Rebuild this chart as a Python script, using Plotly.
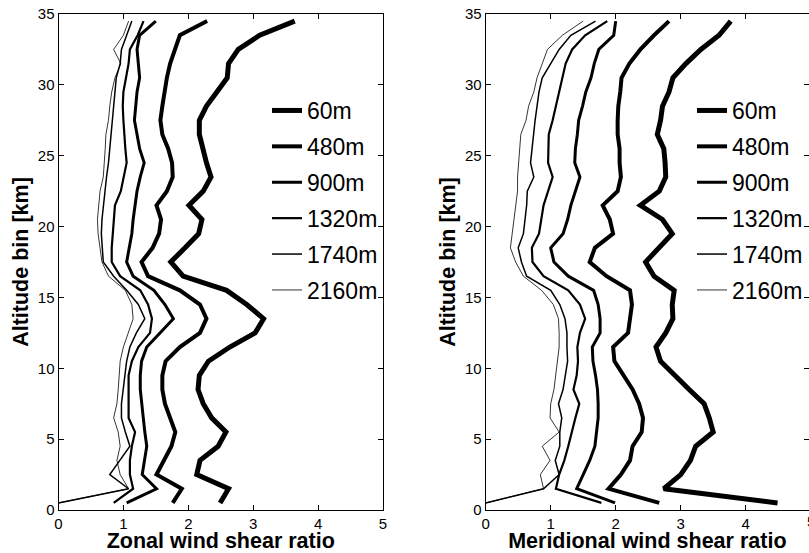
import plotly.graph_objects as go

altitude = [0.5 + i for i in range(35)]  # bin centres 0.5 .. 34.5 km
labels = ["60m", "480m", "900m", "1320m", "1740m", "2160m"]
widths = [5.0, 4.0, 3.0, 2.2, 1.5, 0.8]

# Zonal wind shear ratio, altitude 0.5 -> 34.5
zonal_60 = [2.49, 2.62, 2.13, 2.18, 2.46, 2.58, 2.36, 2.23, 2.15, 2.17, 2.31, 2.64, 3.03, 3.16, 2.90, 2.59, 1.92,
            1.73, 1.95, 2.16, 2.21, 2.01, 2.23, 2.35, 2.28, 2.23, 2.17, 2.17, 2.28, 2.44, 2.60, 2.62, 2.77, 3.10, 3.64]
zonal_480 = [1.76, 1.90, 1.51, 1.62, 1.74, 1.80, 1.72, 1.64, 1.60, 1.60, 1.65, 1.87, 2.18, 2.28, 2.18, 1.87, 1.38,
             1.28, 1.45, 1.55, 1.58, 1.51, 1.67, 1.76, 1.75, 1.69, 1.60, 1.57, 1.60, 1.63, 1.67, 1.72, 1.80, 1.87, 2.29]
zonal_900 = [1.05, 1.51, 1.29, 1.33, 1.36, 1.33, 1.31, 1.28, 1.26, 1.26, 1.28, 1.36, 1.56, 1.77, 1.64, 1.47, 1.15,
             1.05, 1.09, 1.13, 1.15, 1.18, 1.21, 1.26, 1.32, 1.25, 1.21, 1.17, 1.19, 1.21, 1.25, 1.23, 1.21, 1.25, 1.50]
zonal_1320 = [0.85, 1.15, 1.10, 1.10, 1.13, 1.18, 1.08, 1.08, 1.08, 1.08, 1.13, 1.23, 1.41, 1.44, 1.38, 1.26, 0.95,
              0.82, 0.82, 0.84, 0.86, 0.87, 0.96, 1.01, 1.05, 1.03, 1.01, 1.00, 0.99, 1.00, 1.04, 1.08, 1.10, 1.22, 1.31]
zonal_1740 = [0.00, 1.08, 0.79, 0.95, 1.10, 1.03, 0.97, 0.97, 1.00, 1.03, 1.05, 1.10, 1.20, 1.33, 1.23, 1.05, 0.85,
              0.69, 0.67, 0.66, 0.67, 0.69, 0.72, 0.74, 0.77, 0.79, 0.81, 0.83, 0.85, 0.87, 0.89, 0.95, 0.97, 1.05, 1.13]
zonal_2160 = [0.00, 1.08, 0.95, 0.90, 0.95, 0.92, 0.85, 0.90, 0.92, 0.94, 0.95, 1.00, 1.08, 1.15, 1.13, 1.03, 0.77,
              0.67, 0.64, 0.61, 0.60, 0.62, 0.64, 0.69, 0.71, 0.72, 0.73, 0.77, 0.79, 0.82, 0.87, 0.96, 0.85, 1.00, 1.08]

# Meridional wind shear ratio, altitude 0.5 -> 34.5
merid_60 = [4.49, 2.74, 3.00, 3.15, 3.23, 3.50, 3.44, 3.36, 3.13, 2.92, 2.69, 2.62, 2.77, 2.88, 2.87, 2.90, 2.59,
            2.46, 2.67, 2.87, 2.72, 2.38, 2.67, 2.77, 2.76, 2.74, 2.64, 2.69, 2.72, 2.82, 2.88, 3.08, 3.31, 3.59, 3.77]
merid_480 = [2.67, 1.89, 2.08, 2.22, 2.26, 2.40, 2.42, 2.36, 2.26, 2.12, 1.98, 1.96, 2.19, 2.22, 2.25, 2.22, 1.86,
             1.60, 1.68, 1.96, 1.91, 1.80, 2.03, 2.08, 2.06, 2.06, 2.03, 2.03, 2.04, 2.07, 2.09, 2.21, 2.38, 2.59, 2.82]
merid_900 = [1.99, 1.40, 1.50, 1.60, 1.68, 1.71, 1.73, 1.73, 1.72, 1.69, 1.65, 1.64, 1.76, 1.76, 1.73, 1.66, 1.27,
             1.05, 1.00, 1.19, 1.26, 1.31, 1.38, 1.45, 1.37, 1.38, 1.41, 1.43, 1.49, 1.54, 1.62, 1.67, 1.74, 1.97, 2.00]
merid_1320 = [1.78, 1.08, 1.13, 1.21, 1.27, 1.32, 1.38, 1.44, 1.35, 1.40, 1.42, 1.41, 1.45, 1.53, 1.45, 1.27, 0.89,
              0.72, 0.71, 0.82, 0.86, 0.89, 0.96, 1.03, 0.96, 0.96, 0.97, 1.03, 1.08, 1.12, 1.18, 1.23, 1.33, 1.53, 1.87]
merid_1740 = [0.00, 0.89, 1.13, 1.07, 1.14, 1.14, 1.17, 1.12, 1.19, 1.23, 1.26, 1.25, 1.25, 1.22, 1.14, 1.00, 0.63,
              0.55, 0.50, 0.58, 0.61, 0.63, 0.64, 0.74, 0.69, 0.71, 0.73, 0.76, 0.79, 0.82, 0.87, 1.00, 1.13, 1.31, 1.69]
merid_2160 = [0.00, 0.89, 0.84, 0.99, 0.87, 1.13, 0.99, 1.00, 1.05, 1.08, 1.10, 1.13, 1.13, 1.12, 1.04, 0.86, 0.58,
              0.46, 0.38, 0.41, 0.44, 0.47, 0.49, 0.49, 0.51, 0.53, 0.54, 0.62, 0.66, 0.74, 0.79, 0.87, 0.95, 1.18, 1.50]

zonal = [zonal_60, zonal_480, zonal_900, zonal_1320, zonal_1740, zonal_2160]
merid = [merid_60, merid_480, merid_900, merid_1320, merid_1740, merid_2160]

W, H = 809, 553
FONT = "Liberation Sans, Arial, Helvetica, sans-serif"

fig = go.Figure()
for i, (lab, w) in enumerate(zip(labels, widths)):
    fig.add_trace(go.Scatter(x=zonal[i], y=altitude, mode="lines", name=lab,
                             line=dict(color="black", width=w),
                             xaxis="x", yaxis="y", legend="legend",
                             legendgroup="z" + lab))
for i, (lab, w) in enumerate(zip(labels, widths)):
    fig.add_trace(go.Scatter(x=merid[i], y=altitude, mode="lines", name=lab,
                             line=dict(color="black", width=w),
                             xaxis="x2", yaxis="y2", legend="legend2",
                             legendgroup="m" + lab))

ydom = [(H - 510) / H, (H - 14) / H]
axis_common = dict(showline=True, linecolor="black", linewidth=1, mirror="ticks",
                   ticks="inside", ticklen=5, tickcolor="black", showgrid=False,
                   zeroline=False, automargin=False,
                   tickfont=dict(family=FONT, size=15, color="black"))

x2_left = 485.7
x2_scale = 65.0
x2_max = (W - x2_left) / x2_scale
TITLE_SIZE = 21.5

fig.update_layout(
    template="none",
    width=W, height=H,
    margin=dict(l=0, r=0, t=0, b=0, pad=0),
    paper_bgcolor="white", plot_bgcolor="white",
    font=dict(family=FONT, color="black"),
    xaxis=dict(domain=[58.5 / W, 383 / W], range=[0, 5], tick0=0, dtick=1, anchor="y",
               title=dict(text="<b>Zonal wind shear ratio</b>", font=dict(size=TITLE_SIZE), standoff=3),
               **axis_common),
    yaxis=dict(domain=ydom, range=[0, 35], tick0=0, dtick=5, anchor="x",
               title=dict(text="<b>Altitude bin [km]</b>", font=dict(size=TITLE_SIZE), standoff=3),
               **axis_common),
    xaxis2=dict(domain=[x2_left / W, 1.0], range=[0, x2_max], tick0=0, dtick=1, anchor="y2",
                title=dict(text="<b>Meridional wind shear ratio</b>", font=dict(size=TITLE_SIZE), standoff=3),
                **axis_common),
    yaxis2=dict(domain=ydom, range=[0, 35], tick0=0, dtick=5, anchor="x2",
                title=dict(text="<b>Altitude bin [km]</b>", font=dict(size=TITLE_SIZE), standoff=3),
                **axis_common),
    legend=dict(x=267 / W, y=1 - 89 / H, xanchor="left", yanchor="top",
                bgcolor="rgba(0,0,0,0)", borderwidth=0, tracegroupgap=3,
                font=dict(family=FONT, size=23, color="black")),
    legend2=dict(x=692 / W, y=1 - 89 / H, xanchor="left", yanchor="top",
                 bgcolor="rgba(0,0,0,0)", borderwidth=0, tracegroupgap=3,
                 font=dict(family=FONT, size=23, color="black")),
    showlegend=True,
    annotations=[dict(text="5", xref="paper", yref="paper",
                      x=(x2_left + 5 * x2_scale) / W, y=(H - 521) / H,
                      xanchor="center", yanchor="middle", showarrow=False,
                      font=dict(family=FONT, size=15, color="black"))],
)

fig.write_html("out.html", config={"displayModeBar": False},
               post_script="document.body.style.margin='0';document.body.style.overflow='hidden';")
